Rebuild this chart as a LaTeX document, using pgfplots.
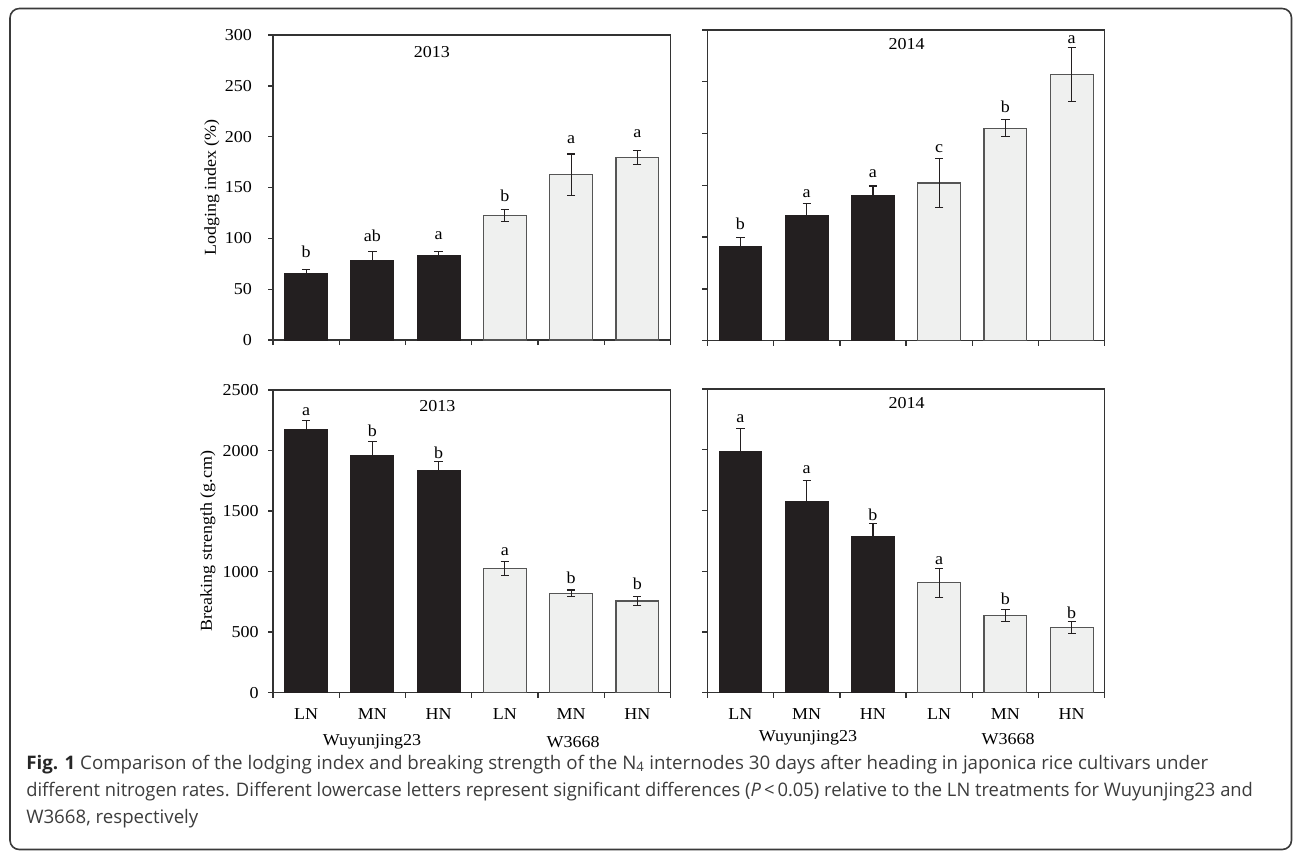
\documentclass[border=0pt]{standalone}
\usepackage{fontspec}
\setmainfont{Liberation Serif}[FakeStretch=1.08]
\newfontfamily\capfont{Open Sans}
\usepackage{graphicx}
\usepackage{pgfplots}
\usepackage{pgfplotstable}
\pgfplotsset{compat=1.18}
\definecolor{barblack}{HTML}{231F20}
\definecolor{barlight}{HTML}{EFF0EF}
\definecolor{barline}{HTML}{555555}
\definecolor{axline}{HTML}{333333}
\definecolor{captxt}{HTML}{3C3C3C}
\definecolor{framec}{HTML}{3A3A3A}

% x = bar position, y = mean, err = error, ly = letter position, lab = letter
\pgfplotstableread{
x y err ly lab
0 65.6 3.6 86.9 b
1 77.7 9.2 102.3 ab
2 83.3 4.0 102.6 a
3 122.6 6.0 141.9 b
4 162.6 20.4 196.7 a
5 179.7 7.0 203.3 a
}\tabTL
\pgfplotstableread{
x y err ly lab
0 90.7 9.0 112.4 b
1 121.0 11.6 142.3 a
2 140.3 9.0 161.6 a
3 152.2 23.5 185.8 c
4 205.0 8.2 225.9 b
5 257.1 26.0 290.3 a
}\tabTR
\pgfplotstableread{
x y err ly lab
0 2170 77 2321 a
1 1955 118 2161 b
2 1831 77 1985 b
3 1024 57 1164 a
4 821 27 945 b
5 757 35 898 b
}\tabBL
\pgfplotstableread{
x y err ly lab
0 1981 192 2259 a
1 1574 170 1839 a
2 1283 110 1463 b
3 904 120 1087 a
4 637 48 771 b
5 536 50 654 b
}\tabBR

\newcommand{\fs}{\fontsize{12.5bp}{15bp}\selectfont}

\pgfplotsset{
  panel/.style={
    scale only axis,
    width=298.1bp,
    anchor=south west,
    xmin=-0.5, xmax=5.5,
    ymin=0,
    xtick={-0.5,0.5,...,5.5},
    x tick label as interval,
    tick align=outside,
    tick pos=left,
    major tick length=3.75bp,
    axis line style={axline, line width=1bp},
    every tick/.style={axline, line width=1bp},
    ticklabel style={font=\fs, text=black},
    xticklabel style={yshift=-4.5bp},
    /pgf/number format/assume math mode=true,
    /pgf/number format/1000 sep={},
    clip=false,
  },
  blackbar/.style={ybar, bar width=0.647, bar shift=0pt, fill=barblack, draw=barblack, line width=0.8bp,
    restrict x to domain=-0.1:2.1,
    error bars/.cd, y dir=both, y explicit,
    error bar style={line width=0.9bp, color=barblack},
    error mark options={rotate=90, mark size=3.1bp, line width=0.9bp, color=barblack}},
  lightbar/.style={ybar, bar width=0.647, bar shift=0pt, fill=barlight, draw=barline, line width=0.9bp,
    restrict x to domain=2.9:5.1,
    error bars/.cd, y dir=both, y explicit,
    error bar style={line width=0.9bp, color=barblack},
    error mark options={rotate=90, mark size=3.1bp, line width=0.9bp, color=barblack}},
  letters/.style={only marks, mark=none, nodes near coords, point meta=explicit symbolic,
    nodes near coords style={anchor=center, font=\fs, text=black}},
}

\begin{document}
\begin{tikzpicture}[x=0.75bp, y=-0.75bp]
\useasboundingbox (0,0) rectangle (1293,851);
\draw[framec, line width=1.2bp, rounded corners=7bp] (10,8.5) rectangle (1291.5,849.5);

% ---------- top left ----------
\begin{axis}[panel, at={(204.75bp,-255bp)}, height=228.75bp, ymax=300,
  ytick={0,50,...,300}, xticklabels={},
  yticklabel style={xshift=-8.5bp}]
\addplot[blackbar] table[x=x, y=y, y error=err]{\tabTL};
\addplot[lightbar] table[x=x, y=y, y error=err]{\tabTL};
\addplot[letters] table[x=x, y=ly, meta=lab]{\tabTL};
\node[font=\fs] at (axis cs:1.9,283.6) {2013};
\end{axis}

% ---------- top right ----------
\begin{axis}[panel, at={(530.5bp,-255.5bp)}, height=233.0bp, ymax=300,
  ytick={0,50,...,300}, xticklabels={}, yticklabels={}]
\addplot[blackbar] table[x=x, y=y, y error=err]{\tabTR};
\addplot[lightbar] table[x=x, y=y, y error=err]{\tabTR};
\addplot[letters] table[x=x, y=ly, meta=lab]{\tabTR};
\node[font=\fs] at (axis cs:2.51,286.5) {2014};
\end{axis}

% ---------- bottom left ----------
\begin{axis}[panel, at={(204.75bp,-519.5bp)}, height=227.0bp, ymax=2500,
  ytick={0,500,...,2500}, xticklabels={LN,MN,HN,LN,MN,HN},
  yticklabel style={xshift=-3.5bp}]
\addplot[blackbar] table[x=x, y=y, y error=err]{\tabBL};
\addplot[lightbar] table[x=x, y=y, y error=err]{\tabBL};
\addplot[letters] table[x=x, y=ly, meta=lab]{\tabBL};
\node[font=\fs] at (axis cs:1.98,2370) {2013};
\end{axis}

% ---------- bottom right ----------
\begin{axis}[panel, at={(530.5bp,-519.5bp)}, height=227.8bp, ymax=2500,
  ytick={0,500,...,2500}, xticklabels={LN,MN,HN,LN,MN,HN}, yticklabels={}]
\addplot[blackbar] table[x=x, y=y, y error=err]{\tabBR};
\addplot[lightbar] table[x=x, y=y, y error=err]{\tabBR};
\addplot[letters] table[x=x, y=ly, meta=lab]{\tabBR};
\node[font=\fs] at (axis cs:2.51,2387) {2014};
\end{axis}

% axis titles
\node[font=\fs, rotate=90] at (212,187.5) {Lodging index (\%)};
\node[font=\fs, rotate=90] at (208,541) {Breaking strength (g.cm)};

% group labels
\node[font=\fs] at (372,741.7) {Wuyunjing23};
\node[font=\fs] at (573,741.7) {W3668};
\node[font=\fs] at (808,738) {Wuyunjing23};
\node[font=\fs] at (1008,739) {W3668};

% caption
\begin{scope}[font=\capfont\fontsize{14bp}{16bp}\selectfont, text=captxt]
\node[anchor=base west, inner sep=0pt] at (26,769) {\resizebox{886.5bp}{\height}{\textbf{\color{black!85}Fig. 1} Comparison of the lodging index and breaking strength of the N\textsubscript{4} internodes 30 days after heading in japonica rice cultivars under}};
\node[anchor=base west, inner sep=0pt] at (26,796) {\resizebox{920bp}{\height}{different nitrogen rates. Different lowercase letters represent significant differences (\textit{P}\,<\,0.05) relative to the LN treatments for Wuyunjing23 and}};
\node[anchor=base west, inner sep=0pt] at (26,823) {W3668, respectively};
\end{scope}
\end{tikzpicture}
\end{document}
